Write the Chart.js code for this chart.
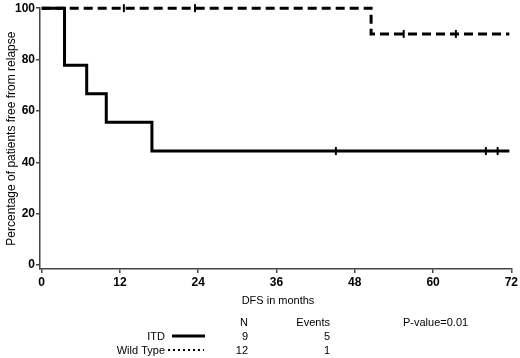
<!DOCTYPE html>
<html>
<head>
<meta charset="utf-8">
<script src="https://cdn.jsdelivr.net/npm/chart.js@4"></script>
<style>
    html, body { margin: 0; padding: 0; background: #fff; }
    #wrap { width: 520px; height: 358px; position: relative; }
</style>
</head>
<body>
<div id="wrap"><canvas id="kmChart"></canvas></div>
<script>
// Kaplan-Meier curves (months, % free from relapse)
const itdTimes = [0, 3.5, 6.9, 9.9, 16.9, 71.7];
const itdSurv = [100, 77.8, 66.7, 55.6, 44.4, 44.4];
const wtTimes = [0, 50.5, 71.7];
const wtSurv = [100, 90, 90];

// censored observations
const itdCensorTimes = [45.1, 68.1, 69.9];
const itdCensorSurv = [44.4, 44.4, 44.4];
const wtCensorTimes = [12.6, 23.5, 55.5, 63.5];
const wtCensorSurv = [100, 100, 90, 90];

// axis ticks
const xTicks = [0, 12, 24, 36, 48, 60, 72];
const yTicks = [0, 20, 40, 60, 80, 100];

// summary table
const groups = ['ITD', 'Wild Type'];
const groupN = [9, 12];
const groupEvents = [5, 1];
const pValueText = 'P-value=0.01';

const FONT = '"Liberation Sans", Arial, sans-serif';
const axisColor = '#444';

function toPoints(xs, ys) {
    return xs.map((x, i) => ({ x: x, y: ys[i] }));
}

// Draws the axis title and the N/Events table under the plot
const tablePlugin = {
    id: 'kmTable',
    afterDraw(chart) {
        const ctx = chart.ctx;
        ctx.save();
        ctx.fillStyle = '#000';
        ctx.textBaseline = 'middle';
        ctx.font = '11px ' + FONT;

        ctx.textAlign = 'center';
        ctx.fillText('DFS in months', 278, 301);

        ctx.textAlign = 'right';
        ctx.fillText('N', 248, 323);
        ctx.fillText('Events', 330, 323);
        ctx.textAlign = 'left';
        ctx.fillText(pValueText, 403, 323);

        const rows = [337, 351];
        groups.forEach((g, i) => {
            const y = rows[i];
            ctx.textAlign = 'right';
            ctx.fillText(g, 165, y);
            ctx.fillText(String(groupN[i]), 248, y);
            ctx.fillText(String(groupEvents[i]), 330, y);

            ctx.beginPath();
            ctx.strokeStyle = '#000';
            if (i === 0) {
                ctx.lineWidth = 3;
                ctx.setLineDash([]);
                ctx.moveTo(172, y - 1);
                ctx.lineTo(205, y - 1);
            } else {
                ctx.lineWidth = 2;
                ctx.setLineDash([2, 3]);
                ctx.moveTo(168, y - 1);
                ctx.lineTo(204, y - 1);
            }
            ctx.stroke();
        });
        ctx.restore();
    }
};

const ctx = document.getElementById('kmChart').getContext('2d');

new Chart(ctx, {
    type: 'line',
    data: {
        datasets: [
            {
                label: 'ITD',
                data: toPoints(itdTimes, itdSurv),
                borderColor: '#000',
                borderWidth: 3,
                stepped: 'before',
                pointRadius: 0,
                fill: false,
                clip: false
            },
            {
                label: 'Wild Type',
                data: toPoints(wtTimes, wtSurv),
                borderColor: '#000',
                borderWidth: 3,
                borderDash: [9, 5],
                stepped: 'before',
                pointRadius: 0,
                fill: false,
                clip: false
            },
            {
                label: 'ITD censored',
                data: toPoints(itdCensorTimes, itdCensorSurv),
                showLine: false,
                pointStyle: 'line',
                rotation: 90,
                pointRadius: 4,
                pointBorderWidth: 2,
                pointBorderColor: '#000',
                clip: false
            },
            {
                label: 'Wild Type censored',
                data: toPoints(wtCensorTimes, wtCensorSurv),
                showLine: false,
                pointStyle: 'line',
                rotation: 90,
                pointRadius: 4,
                pointBorderWidth: 2,
                pointBorderColor: '#000',
                clip: false
            }
        ]
    },
    options: {
        responsive: true,
        maintainAspectRatio: false,
        animation: false,
        layout: {
            padding: { left: 4, right: 3, top: 5, bottom: 0 }
        },
        scales: {
            x: {
                type: 'linear',
                min: -0.26,
                max: 72,
                afterBuildTicks: scale => {
                    scale.ticks = xTicks.map(v => ({ value: v }));
                },
                afterFit: scale => {
                    scale.height = 89;
                },
                ticks: {
                    color: '#000',
                    padding: 2,
                    maxRotation: 0,
                    font: { family: FONT, size: 12, weight: 'bold' }
                },
                grid: {
                    drawOnChartArea: false,
                    tickLength: 4,
                    color: axisColor,
                    lineWidth: 1.5
                },
                border: { color: axisColor, width: 1.5 }
            },
            y: {
                min: -1.5,
                max: 100,
                afterBuildTicks: scale => {
                    scale.ticks = yTicks.map(v => ({ value: v }));
                },
                afterFit: scale => {
                    scale.width = 36;
                },
                title: {
                    display: true,
                    text: 'Percentage of patients free from relapse',
                    color: '#000',
                    padding: 0,
                    font: { family: FONT, size: 12 }
                },
                ticks: {
                    color: '#000',
                    padding: 1,
                    font: { family: FONT, size: 12, weight: 'bold' }
                },
                grid: {
                    drawOnChartArea: false,
                    tickLength: 4,
                    color: axisColor,
                    lineWidth: 1.5
                },
                border: { color: axisColor, width: 1.5 }
            }
        },
        plugins: {
            legend: { display: false },
            tooltip: { enabled: false }
        }
    },
    plugins: [tablePlugin]
});
</script>
</body>
</html>
